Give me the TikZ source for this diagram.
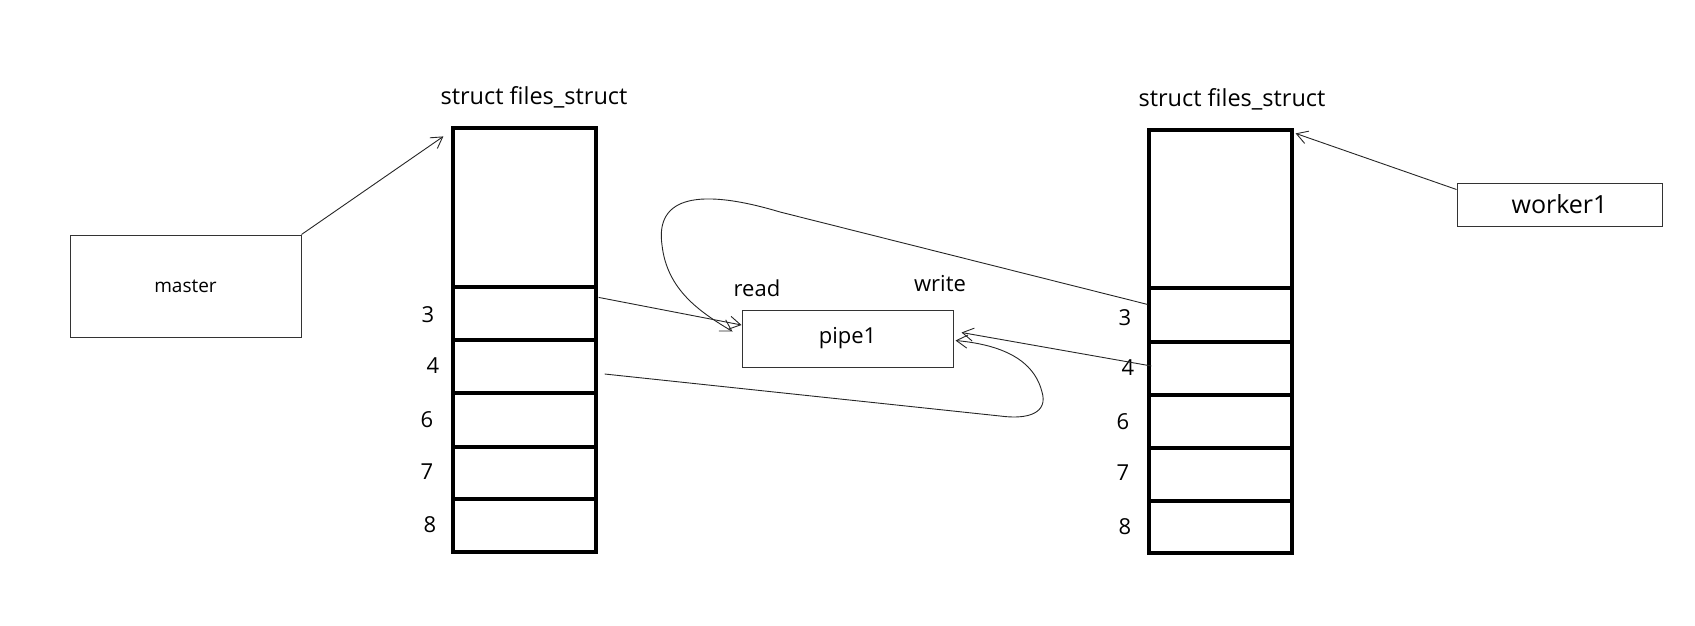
\documentclass[tikz,border=0pt]{standalone}
\usepackage{fontspec}
\setmainfont{Open Sans}
\usetikzlibrary{arrows.meta}
\begin{document}
\begin{tikzpicture}[x=1pt,y=-1pt,
  stackcell/.style={draw=black, line width=3.2pt, inner sep=0pt, minimum width=143pt},
  thinbox/.style={draw=black!80, line width=1pt, inner sep=0pt},
  lbl/.style={font=\fontsize{22}{26}\selectfont, inner sep=0pt},
  num/.style={font=\fontsize{22}{26}\selectfont, inner sep=0pt},
  arr/.style={draw=black!85, line width=0.9pt, -{Straight Barb[length=11pt,width=13pt]}},
  plain/.style={draw=black!85, line width=0.9pt}]
\useasboundingbox (0,0) rectangle (1695,626);
% left stack
\node[stackcell, minimum height=159pt] (ltop) at (524.5,207.5) {};
\node[stackcell, minimum height=53pt] (l3) at (524.5,313.5) {};
\node[stackcell, minimum height=53pt] (l4) at (524.5,366.5) {};
\node[stackcell, minimum height=54pt] (l6) at (524.5,420) {};
\node[stackcell, minimum height=52pt] (l7) at (524.5,473) {};
\node[stackcell, minimum height=53pt] (l8) at (524.5,525.5) {};
% right stack
\node[stackcell, minimum height=158pt] (rtop) at (1220.5,209) {};
\node[stackcell, minimum height=54pt] (r3) at (1220.5,315) {};
\node[stackcell, minimum height=53pt] (r4) at (1220.5,368.5) {};
\node[stackcell, minimum height=53pt] (r6) at (1220.5,421.5) {};
\node[stackcell, minimum height=53pt] (r7) at (1220.5,474.5) {};
\node[stackcell, minimum height=52pt] (r8) at (1220.5,527) {};
% titles
\node[lbl, font=\fontsize{23.5}{28}\selectfont] (ltitle) at (534,97) {struct files\_struct};
\node[lbl, font=\fontsize{23.5}{28}\selectfont] (rtitle) at (1232,99) {struct files\_struct};
% numbers
\node[num] (ln3) at (428,315) {3};
\node[num] (ln4) at (433,366) {4};
\node[num] (ln6) at (427,420) {6};
\node[num] (ln7) at (427,472) {7};
\node[num] (ln8) at (430,525) {8};
\node[num] (rn3) at (1125,318) {3};
\node[num] (rn4) at (1128,368) {4};
\node[num] (rn6) at (1123,422) {6};
\node[num] (rn7) at (1123,473) {7};
\node[num] (rn8) at (1125,527) {8};
% boxes
\node[thinbox, minimum width=231pt, minimum height=102pt, font=\fontsize{19}{22}\selectfont] (master) at (185.5,286) {master};
\node[thinbox, minimum width=205pt, minimum height=43pt, font=\fontsize{25}{28}\selectfont] (worker) at (1559.5,204.5) {worker1};
\node[thinbox, minimum width=211pt, minimum height=57pt, font=\fontsize{22}{26}\selectfont] (pipe) at (847.5,338.5) {pipe1};
\node[lbl] (read) at (757,288) {read};
\node[lbl] (write) at (940,284) {write};
% coordinates
\coordinate (mtip) at ([shift={(-8,10)}]ltop.north west);
\coordinate (wstart) at ([shift={(0,7)}]worker.north west);
\coordinate (wtip) at ([shift={(2,5)}]rtop.north east);
\coordinate (l3s) at ([shift={(1,12)}]l3.north east);
\coordinate (l4s) at ([shift={(7,7.5)}]l4.east);
\coordinate (r3s) at ([shift={(0,18)}]r3.north west);
\coordinate (r4s) at ([shift={(4,-2.5)}]r4.west);
\coordinate (pinA) at ([shift={(0,-13.5)}]pipe.west);
\coordinate (pinB) at ([shift={(-9,-7)}]pipe.west);
\coordinate (pinC) at ([shift={(2,2)}]pipe.east);
\coordinate (pinD) at ([shift={(8,-6)}]pipe.east);
% connectors
\draw[arr] (master.north east) -- (mtip);
\draw[arr] (wstart) -- (wtip);
\draw[arr] (l3s) -- (pinA);
\draw[arr] (r3s) -- (780,212) .. controls (700,188) and (655,196) .. (662,245)
   .. controls (667,290) and (700,312) .. (pinB);
\draw[arr] (l4s) -- (1000,416) .. controls (1030,420) and (1048,412) .. (1042,392)
   .. controls (1036,368) and (1015,346) .. (pinC);
\draw[arr] (r4s) -- (pinD);
\end{tikzpicture}
\end{document}
